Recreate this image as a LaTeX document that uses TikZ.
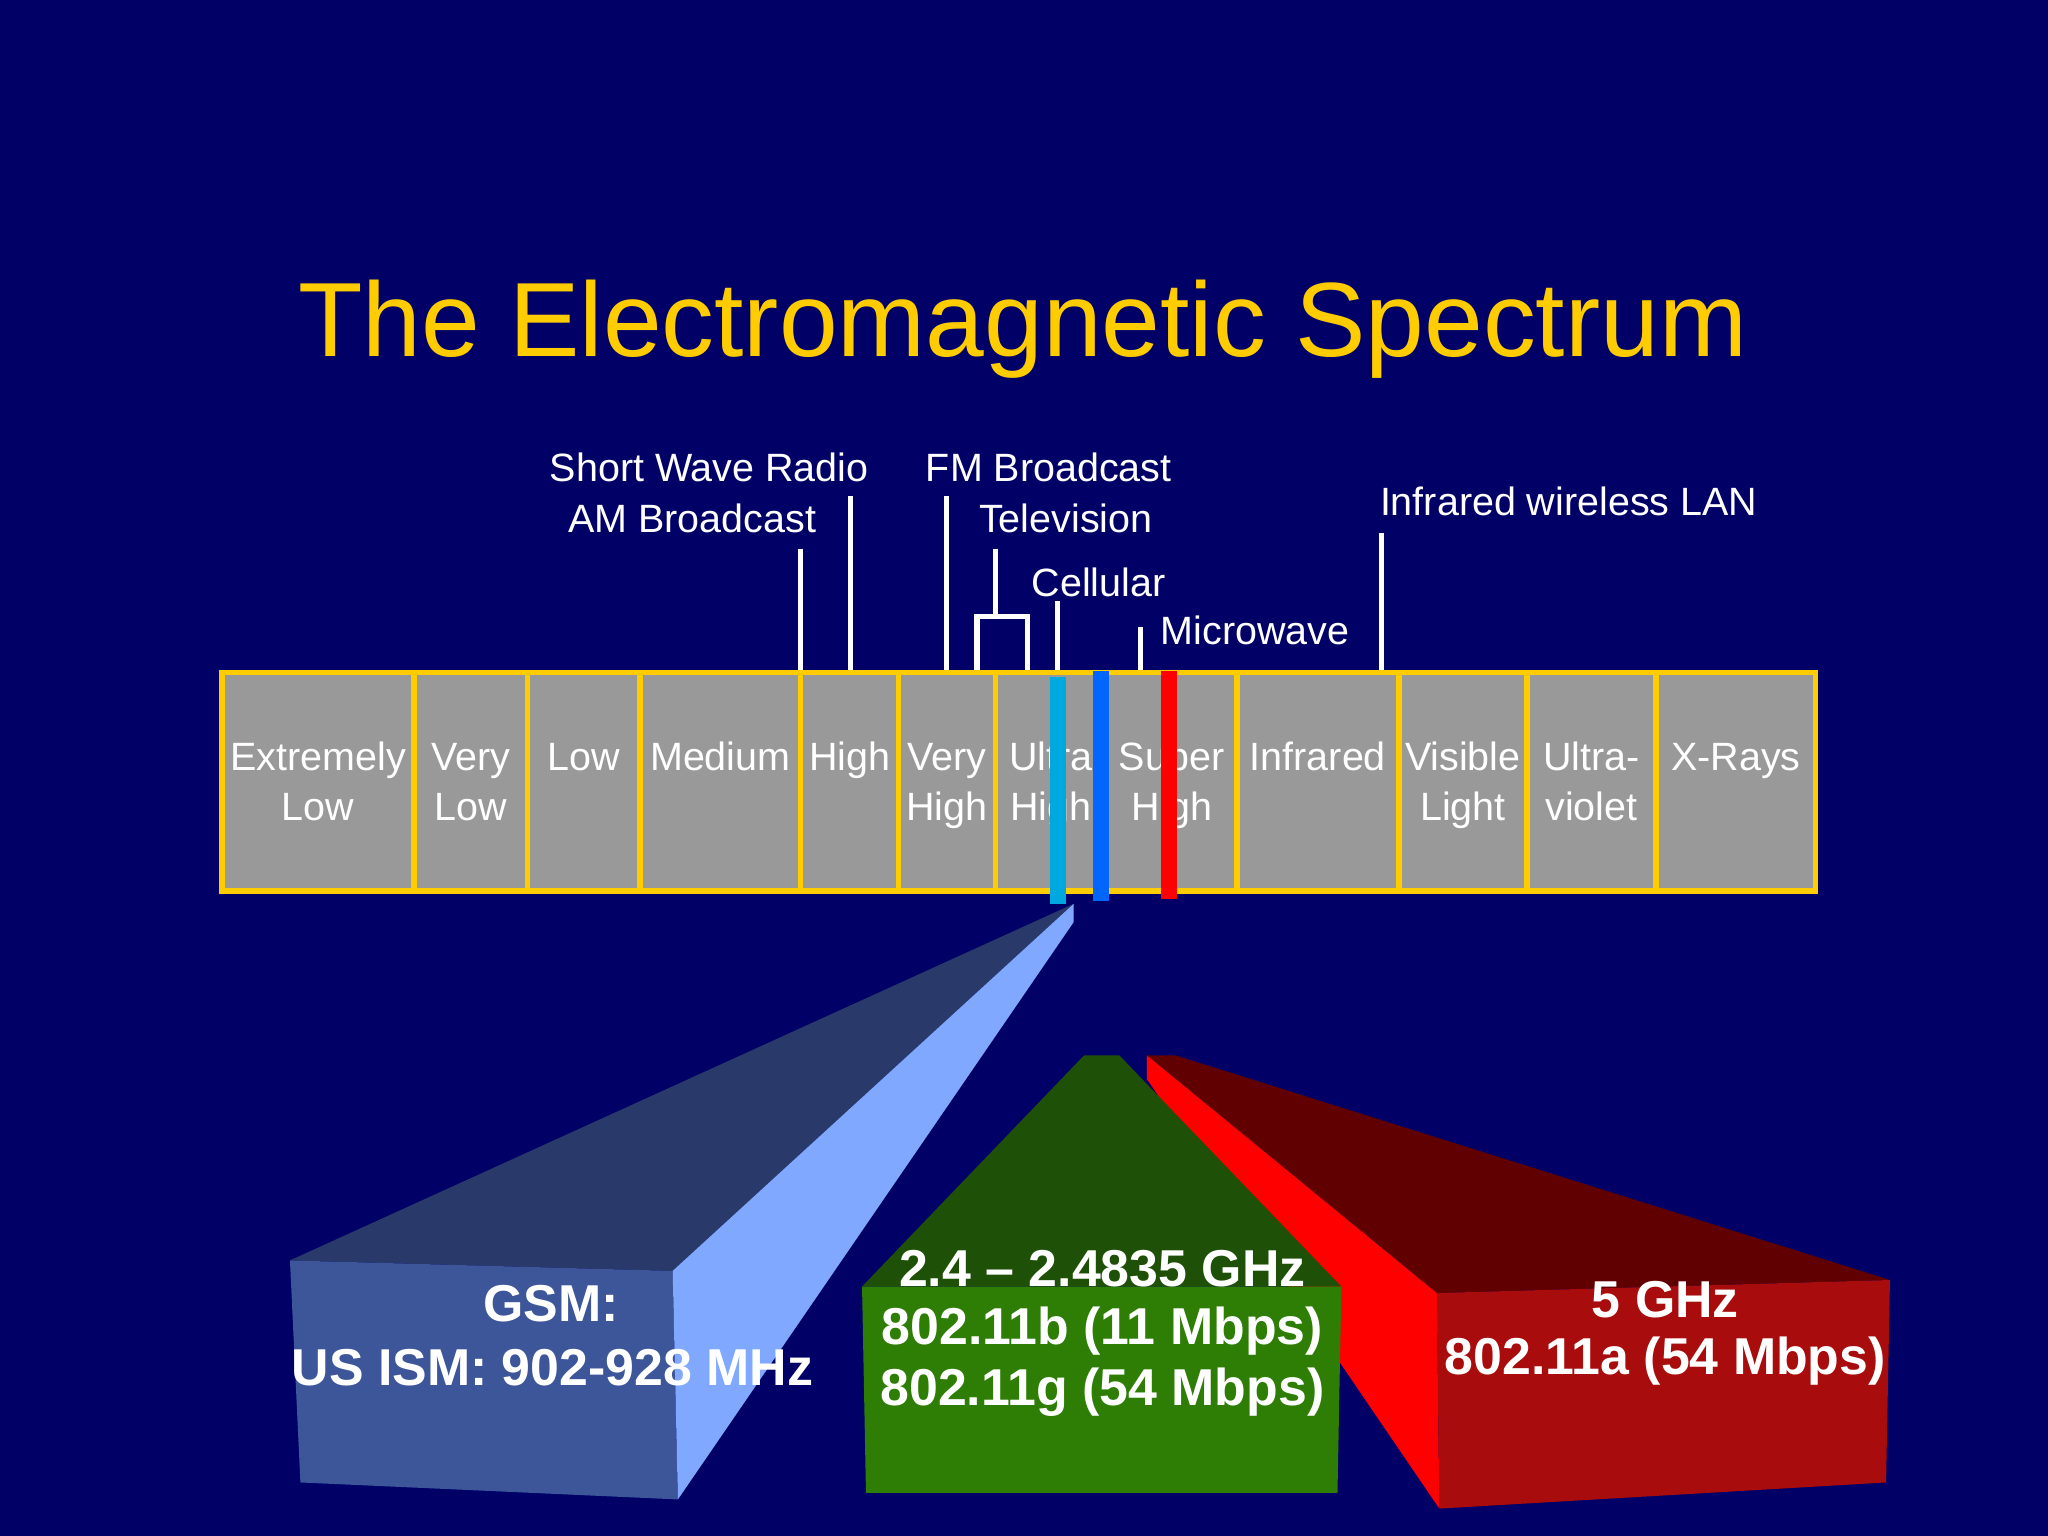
\documentclass[tikz,border=0pt]{standalone}
\usepackage{fontspec}
\setmainfont{Liberation Sans}
\definecolor{bg}{HTML}{000066}
\definecolor{ttl}{HTML}{FFCC00}
\definecolor{cell}{HTML}{999999}
\definecolor{cyanb}{HTML}{00A8E0}
\definecolor{blueb}{HTML}{0066FF}
\definecolor{bTop}{HTML}{28396A}
\definecolor{bFront}{HTML}{3D5699}
\definecolor{bSide}{HTML}{80A8FF}
\definecolor{gTop}{HTML}{1F5008}
\definecolor{gFront}{HTML}{2E7D05}
\definecolor{rTop}{HTML}{600000}
\definecolor{rFront}{HTML}{A80C0C}
\begin{document}
\begin{tikzpicture}[x=0.02cm,y=-0.02cm,
  lbl/.style={text=white,font=\fontsize{17.2}{20}\selectfont,inner sep=0},
  cl/.style={text=white,font=\fontsize{17.2}{20}\selectfont,inner sep=0},
  big/.style={text=white,font=\bfseries\fontsize{22.6}{26}\selectfont,inner sep=0},
  ptr/.style={white,line width=2.2pt}]
\fill[bg] (0,0) rectangle (1568,1176);
\useasboundingbox (0,0) rectangle (1568,1176);
\node[text=ttl,font=\fontsize{46}{50}\selectfont] (title) at (783,252) {The Electromagnetic Spectrum};
% pointer lines
\draw[ptr] (613,420) -- (613,515);
\draw[ptr] (651,380) -- (651,515);
\draw[ptr] (725,380) -- (725,515);
\draw[ptr] (762,420) -- (762,472);
\draw[ptr] (748,515) -- (748,472) -- (787,472) -- (787,515);
\draw[ptr] (810,460) -- (810,515);
\draw[ptr] (873,480) -- (873,515);
\draw[ptr] (1058,408) -- (1058,515);
\node[lbl] (sw) at (543,358) {Short Wave Radio};
\node[lbl] (am) at (530,397) {AM Broadcast};
\node[lbl] (fm) at (803,358) {FM Broadcast};
\node[lbl] (tv) at (816,397) {Television};
\node[lbl] (cel) at (841,446) {Cellular};
\node[lbl] (mw) at (961,483) {Microwave};
\node[lbl] (ir) at (1201,384) {Infrared wireless LAN};
% cells
\foreach \a/\b/\t/\u [count=\i] in {170/317/Extremely/Low,317/404/Very/Low,404/490/Low/,490/613/Medium/,613/688/High/,688/762/Very/High,762/847/Ultra/High,847/947/Super/High,947/1071/Infrared/,1071/1169/Visible/Light,1169/1268/Ultra-/violet,1268/1390/X-Rays/}{
  \fill[cell] (\a,515) rectangle (\b,682);
  \node[cl,anchor=base] (c\i) at ({(\a+\b)/2},590) {\t};
  \node[cl,anchor=base] (d\i) at ({(\a+\b)/2},628) {\u};
  \draw[ttl,line width=2.4pt] (\a,515) rectangle (\b,682);
}
\fill[cyanb] (804,518) rectangle (816,692);
\fill[blueb] (837,514) rectangle (849,690);
\fill[red] (889,514) rectangle (901,688);
% blue prism
\fill[bTop] (222,965) -- (822,692) -- (515,973) -- cycle;
\fill[bFront] (222,965) -- (515,973) -- (519,1148) -- (230,1135) -- cycle;
\fill[bSide] (515,973) -- (822,692) -- (822,706) -- (519,1148) -- cycle;
% red prism
\fill[rTop] (878,808) -- (900,808) -- (1447,980) -- (1100,990) -- cycle;
\fill[red] (878,808) -- (1100,990) -- (1102,1155) -- (878,826) -- cycle;
\fill[rFront] (1100,990) -- (1447,980) -- (1444,1135) -- (1102,1155) -- cycle;
% green prism
\fill[gTop] (660,985) -- (830,808) -- (857,808) -- (1027,985) -- cycle;
\fill[gFront] (660,985) -- (1027,985) -- (1024,1143) -- (663,1143) -- cycle;
\node[big] (g1) at (422,998) {GSM:};
\node[big] (g2) at (423,1047) {US ISM: 902-928 MHz};
\node[big] (w1) at (844,971) {2.4 – 2.4835 GHz};
\node[big] (w2) at (844,1019) {802.11b (11 Mbps)};
\node[big] (w3) at (844,1066) {802.11g (54 Mbps)};
\node[big] (r1) at (1275,995) {5 GHz};
\node[big] (r2) at (1275,1042) {802.11a (54 Mbps)};
\end{tikzpicture}
\end{document}
